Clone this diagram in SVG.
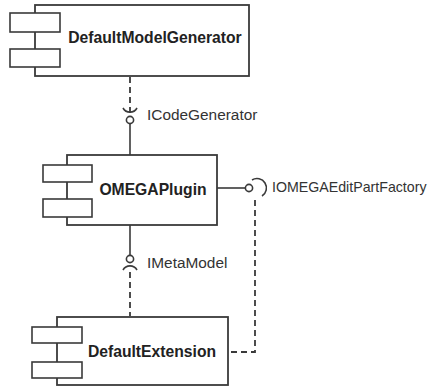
<svg xmlns="http://www.w3.org/2000/svg" width="438" height="387" viewBox="0 0 438 387">
<style>
.box{fill:#fff;stroke:#3a3a3a;stroke-width:1.8}
.tab{fill:#fff;stroke:#3a3a3a;stroke-width:1.6}
.name{font-family:"Liberation Sans",Arial,sans-serif;font-size:15.7px;font-weight:bold;fill:#222;text-anchor:middle}
.lbl{font-family:"Liberation Sans",Arial,sans-serif;font-size:15.4px;fill:#333}
.solid{fill:none;stroke:#3a3a3a;stroke-width:1.6}
.dash{fill:none;stroke:#3a3a3a;stroke-width:1.8;stroke-dasharray:6,4}
.ball{fill:#fff;stroke:#3a3a3a;stroke-width:1.6}
</style>
<rect width="438" height="387" fill="#fff"/>
<g id="connectors">
<path class="dash" d="M130,77 V114"/>
<path class="solid" d="M123,108 A8,8 0 0 0 137,108"/>
<path class="solid" d="M130,124 V155"/>
<circle class="ball" cx="130" cy="120" r="3.6"/>
<path class="solid" d="M130,225 V256"/>
<circle class="ball" cx="130" cy="259" r="3.6"/>
<path class="solid" d="M123,270 A8,8 0 0 1 137,270"/>
<path class="dash" d="M130,272 V316"/>
<path class="solid" d="M217,188 H245"/>
<circle class="ball" cx="249" cy="188" r="3.6"/>
<path class="solid" d="M252,180 A9,9 0 0 1 262,196"/>
<path class="dash" d="M255,200 V352 H229"/>
</g>
<g id="DefaultModelGenerator">
<rect class="box" x="35" y="5" width="214" height="71"/>
<rect class="tab" x="10" y="13" width="50" height="19"/>
<rect class="tab" x="10" y="49" width="50" height="18"/>
<text class="name" x="155" y="43">DefaultModelGenerator</text>
</g>
<g id="ICodeGenerator">
<text class="lbl" x="147" y="120">ICodeGenerator</text>
</g>
<g id="OMEGAPlugin">
<rect class="box" x="67" y="155" width="150" height="70"/>
<rect class="tab" x="43" y="165" width="49" height="17"/>
<rect class="tab" x="43" y="199" width="49" height="18"/>
<text class="name" x="153" y="195">OMEGAPlugin</text>
</g>
<g id="IOMEGAEditPartFactory">
<text class="lbl" x="272" y="192" style="font-size:14.2px">IOMEGAEditPartFactory</text>
</g>
<g id="IMetaModel">
<text class="lbl" x="147" y="268">IMetaModel</text>
</g>
<g id="DefaultExtension">
<rect class="box" x="57" y="317" width="171" height="68"/>
<rect class="tab" x="32" y="327" width="50" height="16"/>
<rect class="tab" x="32" y="362" width="50" height="16"/>
<text class="name" x="152" y="357">DefaultExtension</text>
</g>
</svg>
